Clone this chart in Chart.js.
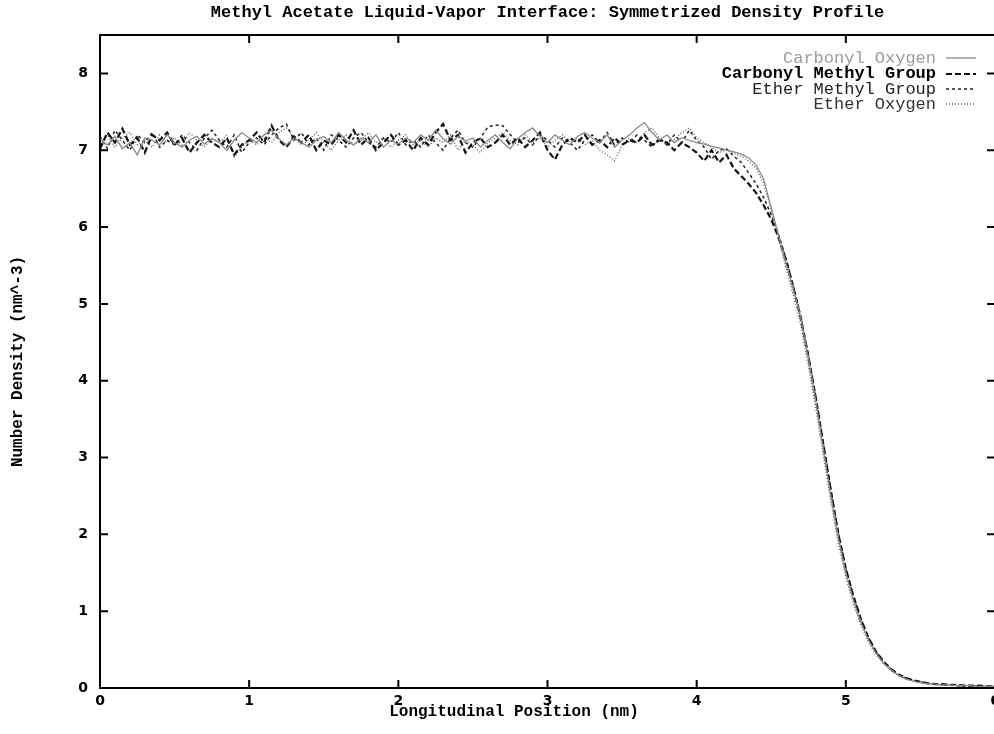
<!DOCTYPE html>
<html>
<head>
<meta charset="utf-8">
<title>Methyl Acetate Liquid-Vapor Interface</title>
<script src="https://cdn.jsdelivr.net/npm/chart.js@4"></script>
<style>
  html, body { margin: 0; padding: 0; background: #fff; overflow: hidden; }
  #wrap { width: 994px; height: 734px; overflow: hidden; position: relative; }
  #chart { position: absolute; left: 0; top: 0; }
</style>
</head>
<body>
<div id="wrap"><canvas id="chart" width="1010" height="734"></canvas></div>
<script>
// Longitudinal positions (nm)
const positions = [
  0.00, 0.05, 0.10, 0.15, 0.20, 0.25, 0.30, 0.35, 0.40, 0.45,
  0.50, 0.55, 0.60, 0.65, 0.70, 0.75, 0.80, 0.85, 0.90, 0.95,
  1.00, 1.05, 1.10, 1.15, 1.20, 1.25, 1.30, 1.35, 1.40, 1.45,
  1.50, 1.55, 1.60, 1.65, 1.70, 1.75, 1.80, 1.85, 1.90, 1.95,
  2.00, 2.05, 2.10, 2.15, 2.20, 2.25, 2.30, 2.35, 2.40, 2.45,
  2.50, 2.55, 2.60, 2.65, 2.70, 2.75, 2.80, 2.85, 2.90, 2.95,
  3.00, 3.05, 3.10, 3.15, 3.20, 3.25, 3.30, 3.35, 3.40, 3.45,
  3.50, 3.55, 3.60, 3.65, 3.70, 3.75, 3.80, 3.85, 3.90, 3.95,
  4.00, 4.05, 4.10, 4.15, 4.20, 4.25, 4.30, 4.35, 4.40, 4.45,
  4.50, 4.55, 4.60, 4.65, 4.70, 4.75, 4.80, 4.85, 4.90, 4.95,
  5.00, 5.05, 5.10, 5.15, 5.20, 5.25, 5.30, 5.35, 5.40, 5.45,
  5.50, 5.55, 5.60, 5.65, 5.70, 5.75, 5.80, 5.85, 5.90, 5.95,
  6.00
];

// Number density (nm^-3) for each group
const carbonylOxygen = [
  7.13, 7.07, 7.18, 7.02, 7.10, 6.94, 7.16, 7.13, 7.07, 7.20,
  7.10, 7.04, 7.13, 7.18, 7.08, 7.15, 7.10, 7.00, 7.13, 7.23,
  7.16, 7.10, 7.20, 7.26, 7.15, 7.07, 7.16, 7.10, 7.04, 7.13,
  7.18, 7.10, 7.23, 7.13, 7.07, 7.16, 7.10, 7.20, 7.04, 7.13,
  7.08, 7.16, 7.10, 7.20, 7.13, 7.26, 7.15, 7.08, 7.18, 7.12,
  7.16, 7.04, 7.13, 7.20, 7.10, 7.02, 7.15, 7.23, 7.29, 7.18,
  7.10, 7.20, 7.13, 7.07, 7.18, 7.23, 7.16, 7.10, 7.20, 7.04,
  7.13, 7.20, 7.29, 7.36, 7.23, 7.13, 7.20, 7.10, 7.16, 7.13,
  7.10, 7.08, 7.05, 7.03, 7.00, 6.98, 6.95, 6.90, 6.80, 6.62,
  6.25, 5.88, 5.52, 5.18, 4.80, 4.28, 3.72, 3.10, 2.50, 1.95,
  1.50, 1.15, 0.86, 0.63, 0.46, 0.33, 0.24, 0.17, 0.12, 0.09,
  0.07, 0.06, 0.05, 0.04, 0.04, 0.03, 0.03, 0.03, 0.02, 0.02,
  0.02
];
const carbonylMethyl = [
  7.02, 7.23, 7.10, 7.28, 7.07, 7.16, 6.97, 7.20, 7.13, 7.23,
  7.07, 7.16, 6.97, 7.10, 7.20, 7.10, 7.04, 7.16, 6.94, 7.07,
  7.13, 7.23, 7.10, 7.32, 7.13, 7.04, 7.18, 7.10, 7.20, 7.00,
  7.13, 7.07, 7.20, 7.10, 7.26, 7.07, 7.16, 7.00, 7.10, 7.20,
  7.07, 7.13, 7.00, 7.16, 7.07, 7.23, 7.34, 7.13, 7.20, 6.97,
  7.10, 7.16, 7.04, 7.10, 7.20, 7.07, 7.16, 7.04, 7.13, 7.23,
  7.00, 6.88, 7.07, 7.16, 7.10, 7.20, 7.07, 7.13, 7.04, 7.16,
  7.07, 7.13, 7.10, 7.20, 7.07, 7.13, 7.10, 7.00, 7.10, 7.04,
  6.97, 6.86, 7.00, 6.84, 6.94, 6.76, 6.66, 6.56, 6.44, 6.28,
  6.10, 5.86, 5.56, 5.20, 4.80, 4.30, 3.76, 3.16, 2.56, 2.00,
  1.55, 1.20, 0.90, 0.66, 0.48, 0.35, 0.25, 0.18, 0.13, 0.10,
  0.08, 0.06, 0.05, 0.05, 0.04, 0.04, 0.03, 0.03, 0.03, 0.02,
  0.02
];
const etherMethyl = [
  7.18, 7.02, 7.26, 7.13, 7.00, 7.20, 7.10, 7.23, 7.04, 7.13,
  7.07, 7.20, 7.10, 7.00, 7.16, 7.26, 7.13, 7.04, 7.20, 6.97,
  7.10, 7.16, 7.07, 7.20, 7.29, 7.34, 7.13, 7.23, 7.07, 7.16,
  7.00, 7.20, 7.13, 7.04, 7.16, 7.23, 7.10, 7.04, 7.16, 7.10,
  7.23, 7.07, 7.13, 7.04, 7.20, 7.10, 7.00, 7.16, 7.26, 7.10,
  7.04, 7.16, 7.30, 7.33, 7.32, 7.20, 7.10, 7.16, 7.07, 7.20,
  7.13, 7.04, 7.16, 7.10, 7.00, 7.13, 7.20, 7.10, 7.23, 7.07,
  7.16, 7.10, 7.20, 7.13, 7.04, 7.16, 7.07, 7.20, 7.10, 7.26,
  7.13, 7.04, 6.88, 7.00, 7.02, 6.92, 6.84, 6.70, 6.56, 6.38,
  6.16, 5.90, 5.58, 5.22, 4.82, 4.32, 3.78, 3.18, 2.58, 2.02,
  1.56, 1.20, 0.90, 0.66, 0.48, 0.34, 0.25, 0.18, 0.13, 0.10,
  0.08, 0.06, 0.05, 0.04, 0.04, 0.03, 0.03, 0.03, 0.02, 0.02,
  0.02
];
const etherOxygen = [
  7.10, 7.20, 7.04, 7.16, 7.23, 7.07, 7.13, 7.04, 7.20, 7.10,
  7.16, 7.07, 7.23, 7.13, 7.04, 7.16, 7.10, 7.20, 6.91, 7.04,
  7.13, 7.07, 7.16, 7.10, 7.23, 7.29, 7.16, 7.07, 7.13, 7.23,
  7.10, 7.00, 7.13, 7.20, 7.07, 7.13, 7.23, 7.10, 7.16, 7.04,
  7.13, 7.20, 7.07, 7.13, 7.04, 7.16, 7.10, 7.20, 7.00, 7.13,
  7.07, 6.97, 7.10, 7.16, 7.23, 7.13, 7.07, 7.20, 7.10, 7.16,
  7.04, 7.13, 7.20, 7.10, 7.16, 7.07, 7.13, 7.00, 6.94, 6.86,
  7.07, 7.16, 7.10, 7.23, 7.29, 7.16, 7.07, 7.13, 7.23, 7.29,
  7.16, 7.10, 7.04, 6.97, 7.00, 6.96, 6.92, 6.86, 6.76, 6.56,
  6.22, 5.84, 5.46, 5.10, 4.70, 4.18, 3.62, 3.02, 2.42, 1.88,
  1.44, 1.10, 0.82, 0.60, 0.44, 0.32, 0.23, 0.16, 0.12, 0.09,
  0.07, 0.06, 0.05, 0.04, 0.04, 0.03, 0.03, 0.03, 0.02, 0.02,
  0.02
];

const seriesNames = ['Carbonyl Oxygen', 'Carbonyl Methyl Group', 'Ether Methyl Group', 'Ether Oxygen'];
const xTicks = [0, 1, 2, 3, 4, 5, 6];
const yTicks = [0, 1, 2, 3, 4, 5, 6, 7, 8];

const MONO = "'Liberation Mono', 'DejaVu Sans Mono', monospace";
const SANS = "'DejaVu Sans', sans-serif";

function toPoints(values) {
  return positions.map((x, i) => ({ x: x, y: values[i] }));
}

// legend look per series (text colour, weight)
const legendText = [
  { color: '#9a9a9a', weight: 'normal' },
  { color: '#000000', weight: 'bold' },
  { color: '#222222', weight: 'normal' },
  { color: '#333333', weight: 'normal' }
];

// frame, inward ticks, axis titles and legend
const decorPlugin = {
  id: 'decor',
  afterDraw(chart) {
    const ctx = chart.ctx;
    const a = chart.chartArea;
    const xs = chart.scales.x;
    const ys = chart.scales.y;
    ctx.save();
    ctx.strokeStyle = '#000';
    ctx.lineWidth = 2;
    ctx.strokeRect(a.left, a.top, a.right - a.left, a.bottom - a.top);

    const tl = 8;
    ctx.beginPath();
    xTicks.forEach(v => {
      if (v === 0 || v === 6) return;
      const px = xs.getPixelForValue(v);
      ctx.moveTo(px, a.bottom); ctx.lineTo(px, a.bottom - tl);
      ctx.moveTo(px, a.top); ctx.lineTo(px, a.top + tl);
    });
    yTicks.forEach(v => {
      if (v === 0) return;
      const py = ys.getPixelForValue(v);
      ctx.moveTo(a.left, py); ctx.lineTo(a.left + tl, py);
      ctx.moveTo(a.right, py); ctx.lineTo(a.right - tl, py);
    });
    ctx.stroke();

    // axis titles
    ctx.fillStyle = '#000';
    ctx.font = 'bold 16px ' + MONO;
    ctx.textAlign = 'center';
    ctx.textBaseline = 'middle';
    ctx.fillText('Longitudinal Position (nm)', 514, 712);
    ctx.save();
    ctx.translate(18, (a.top + a.bottom) / 2);
    ctx.rotate(-Math.PI / 2);
    ctx.fillText('Number Density (nm^-3)', 0, 0);
    ctx.restore();

    // legend, top right
    const textRight = 936;
    const lineL = 946, lineR = 976;
    const rowY = [58, 74, 89, 104];
    chart.data.datasets.forEach((ds, i) => {
      const y = rowY[i];
      ctx.font = legendText[i].weight + ' 17px ' + MONO;
      ctx.fillStyle = legendText[i].color;
      ctx.textAlign = 'right';
      ctx.fillText(ds.label, textRight, y);
      ctx.strokeStyle = ds.borderColor;
      ctx.lineWidth = ds.borderWidth;
      ctx.setLineDash(ds.borderDash || []);
      ctx.beginPath();
      ctx.moveTo(lineL, y); ctx.lineTo(lineR, y);
      ctx.stroke();
      ctx.setLineDash([]);
    });
    ctx.restore();
  }
};

const ctx = document.getElementById('chart').getContext('2d');
new Chart(ctx, {
  type: 'line',
  data: {
    datasets: [
      { label: seriesNames[0], data: toPoints(carbonylOxygen), borderColor: '#8a8a8a', borderWidth: 1.3, borderDash: [] },
      { label: seriesNames[1], data: toPoints(carbonylMethyl), borderColor: '#111111', borderWidth: 2.2, borderDash: [6, 3] },
      { label: seriesNames[2], data: toPoints(etherMethyl), borderColor: '#222222', borderWidth: 1.5, borderDash: [3, 3] },
      { label: seriesNames[3], data: toPoints(etherOxygen), borderColor: '#555555', borderWidth: 1.3, borderDash: [1, 2] }
    ]
  },
  options: {
    responsive: false,
    animation: false,
    layout: { padding: { left: 0, right: 15, top: 0, bottom: 0 } },
    elements: { point: { radius: 0 }, line: { tension: 0 } },
    plugins: {
      legend: { display: false },
      tooltip: { enabled: false },
      title: {
        display: true,
        fullSize: false,
        text: 'Methyl Acetate Liquid-Vapor Interface: Symmetrized Density Profile',
        color: '#000',
        font: { family: MONO, size: 17, weight: 'bold', lineHeight: 1.2 },
        padding: { top: 3, bottom: 11.6 }
      }
    },
    scales: {
      x: {
        type: 'linear',
        min: 0,
        max: 6,
        afterBuildTicks: s => { s.ticks = xTicks.map(v => ({ value: v })); },
        afterFit: s => { s.height = 46; },
        grid: { display: false, drawTicks: false },
        border: { display: false },
        ticks: { color: '#000', font: { family: SANS, size: 14, weight: 'bold' }, padding: 5, maxRotation: 0 }
      },
      y: {
        type: 'linear',
        min: 0,
        max: 8.5,
        afterBuildTicks: s => { s.ticks = yTicks.map(v => ({ value: v })); },
        afterFit: s => { s.width = 100; },
        grid: { display: false, drawTicks: false },
        border: { display: false },
        ticks: { color: '#000', font: { family: SANS, size: 14, weight: 'bold' }, padding: 12 }
      }
    }
  },
  plugins: [decorPlugin]
});
</script>
</body>
</html>
